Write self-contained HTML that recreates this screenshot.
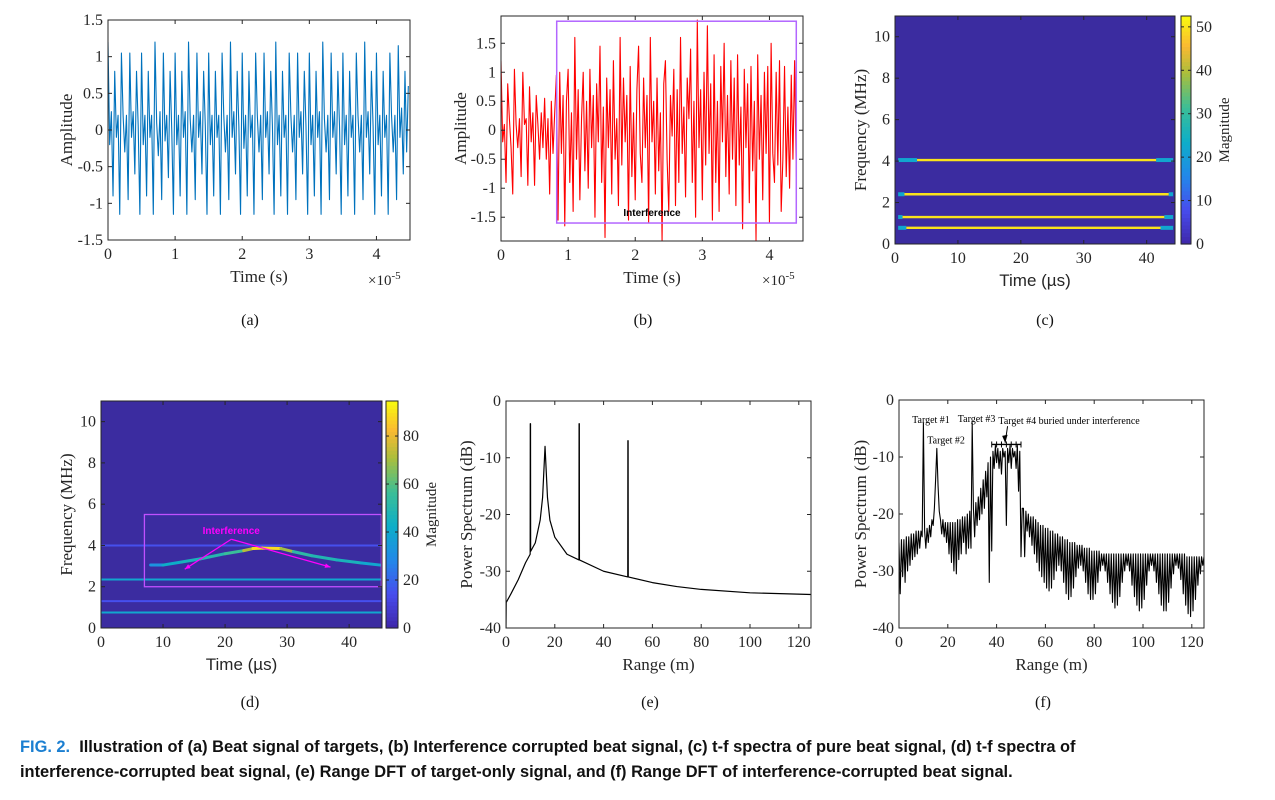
<!DOCTYPE html>
<html><head><meta charset="utf-8">
<style>
html,body{margin:0;padding:0;background:#fff;}
body{width:1275px;height:800px;position:relative;overflow:hidden;}
svg{position:absolute;left:0;top:0;}
.cap{position:absolute;left:20px;top:735px;font-family:"Liberation Sans",sans-serif;font-weight:bold;font-size:16.4px;line-height:25px;color:#111;white-space:nowrap;}
.cap b{color:#1b7fd1;}
</style></head>
<body>
<svg id="fig" width="1275" height="800" viewBox="0 0 1275 800"></svg>
<div class="cap"><b>FIG. 2.</b>&nbsp; Illustration of (a) Beat signal of targets, (b) Interference corrupted beat signal, (c) t-f spectra of pure beat signal, (d) t-f spectra of<br>interference-corrupted beat signal, (e) Range DFT of target-only signal, and (f) Range DFT of interference-corrupted beat signal.</div>
<script>
// ---------- data ----------
const sigA = [
1.2,-0.2,0.25,-0.9,0.8,-0.1,0.2,-1.15,1.05,0.2,
-0.3,0.2,-0.95,1.05,-0.1,0.25,-0.6,0.8,0.05,-1.15,
1.05,-0.2,0.2,-0.9,0.8,-0.1,0.2,-1.15,1.2,0.1,
-0.35,0.25,-0.95,1.05,-0.15,0.2,-0.65,0.8,0.0,-1.15,
1.05,-0.2,0.2,-0.9,0.8,-0.1,0.25,-1.15,1.2,0.15,
-0.3,0.2,-0.95,1.05,-0.1,0.25,-0.6,0.8,0.05,-1.15,
1.05,-0.2,0.2,-0.9,0.8,-0.1,0.2,-1.15,1.05,0.2,
-0.3,0.2,-0.95,1.2,-0.1,0.25,-0.6,0.8,0.05,-1.15,
1.05,-0.25,0.2,-0.9,0.8,-0.1,0.2,-1.15,1.05,0.2,
-0.3,0.2,-0.95,1.05,-0.1,0.25,-0.6,0.8,0.05,-1.15,
1.2,-0.2,0.2,-0.9,0.8,-0.1,0.2,-1.15,1.05,0.2,
-0.3,0.2,-0.95,1.05,-0.1,0.25,-0.6,0.8,0.05,-1.15,
1.05,-0.2,0.2,-0.9,0.8,-0.1,0.25,-1.15,1.2,0.15,
-0.3,0.2,-0.95,1.05,-0.1,0.25,-0.6,0.8,0.05,-1.15,
1.05,-0.2,0.2,-0.9,0.8,-0.1,0.2,-1.15,1.05,0.2,
-0.3,0.2,-0.95,1.2,-0.1,0.25,-0.6,0.8,0.05,-1.15,
1.05,-0.2,0.2,-0.9,0.8,-0.1,0.2,-1.15,1.05,0.2,
-0.3,0.2,-0.95,1.15,-0.1,0.3,-0.6,0.8,-0.3,0.6];
const sigB = [
1.2,-0.2,0.1,-0.9,0.8,0.2,-0.3,-1.1,1.05,0.1,-0.3,0.2,-0.8,1.0,0.1,0.2,-0.95,0.75,-0.2,0.3,
-0.95,0.6,0.1,-0.5,0.3,-0.3,0.55,-0.5,0.2,-1.1,0.5,-0.4,0.3,
0.95,-1.55,1.0,-0.4,0.6,-1.65,0.5,1.05,-0.9,0.3,-1.4,1.6,-0.5,0.7,-1.2,0.2,1.0,-0.7,0.5,-1.0,
1.05,-0.3,0.6,-1.5,0.8,-0.2,1.45,-0.9,0.4,-1.85,0.9,-0.3,0.7,-1.1,1.2,-0.5,0.2,-1.3,1.6,-0.6,
0.9,-0.2,0.6,-1.55,1.1,-0.8,0.3,-1.2,0.7,1.45,-0.4,-0.9,0.9,-0.3,0.6,-1.6,1.6,-0.2,0.5,-1.1,
0.9,-0.7,0.3,-1.9,0.8,1.2,-0.5,-1.4,0.6,-0.1,1.05,-1.3,0.7,-0.9,1.6,-0.4,0.4,-1.15,0.9,0.2,
1.4,-0.9,0.5,-1.5,1.9,-0.3,0.7,-1.2,1.0,-0.6,1.8,-0.4,0.8,-1.55,1.3,-0.9,0.5,-1.4,1.1,-0.2,
1.5,-0.8,0.6,-1.1,1.2,-0.5,0.9,-1.3,1.3,-0.6,0.4,-1.7,1.05,-0.3,0.8,-1.25,1.1,-0.7,0.5,-1.9,
1.3,-0.5,0.6,-1.2,1.0,-0.4,1.1,-1.6,1.5,-0.4,-0.9,1.0,-0.6,1.2,-1.4,-0.5,1.1,-0.8,0.4,-1.0,
0.95,-0.5,1.2,-0.8];
const powerF = [
-25,-34,-24.5,-31,-24.5,-32,-24,-30,-24,-29,-23.5,-28,-23.5,-27.5,-23,-27,-23,-26,-23,-24,
-4,
-23,-26,-22.5,-25,-22,-24,-21,-22,-19,
-14,-8.5,-15,-19.5,-21,-23.5,
-21,-24,-21.5,-25,-21.5,-27,-21.5,-28.5,-21.5,-30,-21.5,-30.5,-21,-28,-21,-27,-20.5,-25,-20.5,-27,-20,-26,-19.5,-26,
-4,
-19,-24,-18,-22,-17,-21,-15.5,-20,-14,-19,-12.5,-17,-11,-32,
-10,-26.5,-9,-12,-8,-11,-8.5,-12,-9,-13,-8.5,-10,-9,-22,-8.5,-11,-8,-12,-8.5,-10,-9,-12,-8,-16,-9,-27.5,-19,
-19,-27.5,-19.5,-23,-20,-24,-20.5,-25.5,-20.5,-27,-21,-28.5,-21.5,-30,-22,-31,-22,-32,-22.5,-33,
-22.5,-33.5,-23,-33,-23,-31.5,-23.5,-30,-23.5,-29,-24,-30,-24,-32,-24.5,-34,-24.5,-35,-25,-34.5,
-25,-33,-25,-31,-25.5,-29.5,-25.5,-29,-25.5,-30,-26,-32,-26,-34,-26,-35,-26.5,-35,-26.5,-34,
-26.5,-32,-26.5,-30,-27,-29,-27,-30,-27,-32,-27,-34,-27,-35.5,-27,-36.5,-27,-36,-27,-34.5,
-27,-32,-27,-30,-27,-29,-27,-30,-27,-32.5,-27,-34.5,-27,-36,-27,-37,-27,-36.5,-27,-35,
-27,-32.5,-27,-30,-27,-29,-27,-30,-27,-32,-27,-34,-27,-36,-27,-37,-27,-37,-27,-35.5,
-27,-33,-27,-30.5,-27,-29,-27,-29.5,-27,-31.5,-27,-34,-27,-36,-27.5,-37.5,-27.5,-38,-27.5,-37,
-27.5,-35,-27.5,-32.5,-27.5,-30.5,-27.5,-29,-27.5];
const rangeE = [0,0.1,2,5,8,9.9,9.95,10.05,10.1,12,14,15,16,17,18,20,25,29.9,29.95,30.05,30.1,40,49.9,49.95,50.05,50.1,60,70,80,100,125];
const powerE = [-40,-35.5,-34,-31.5,-28.5,-27,-4,-4,-26.5,-25,-21,-17,-8,-17,-21,-24,-27,-28,-4,-4,-28,-30,-31,-7,-7,-31,-32,-32.7,-33.2,-33.8,-34.1];
// t-f (c)
const freqC = [4.05,2.4,1.3,0.78];
const startC = [3.5,1.5,1.2,1.8];
const endC = [41.5,43.5,42.8,42.2];
const magC = [50,50,50,50];
// t-f (d)
const freqD = [4.0,2.35,1.3,0.75];
const magD = [15,40,15,40];
const chirpT = [8,10,13,16,20,23,24.5,26,29,31,34,38,42,45];
const chirpF = [3.05,3.05,3.2,3.35,3.6,3.75,3.85,3.87,3.85,3.7,3.5,3.3,3.15,3.05];
const chirpMag = [25,40,45,48,52,60,85,92,85,55,50,48,45,35];

// ---------- helpers ----------
const NS="http://www.w3.org/2000/svg";
const svg=document.getElementById('fig');
function mk(tag,attrs,parent){const e=document.createElementNS(NS,tag);for(const k in attrs)e.setAttribute(k,attrs[k]);(parent||svg).appendChild(e);return e;}
function txt(s,attrs,parent){const e=mk('text',attrs,parent);e.textContent=s;return e;}
const SERIF='"Liberation Serif",serif', SANS='"Liberation Sans","DejaVu Sans",sans-serif';
const stops=[[0,[62,38,168]],[0.15,[72,76,237]],[0.3,[34,136,233]],[0.45,[13,174,200]],[0.6,[60,190,150]],[0.75,[170,190,60]],[0.87,[250,185,50]],[1,[249,251,14]]];
function parula(t){t=Math.max(0,Math.min(1,t));for(let i=1;i<stops.length;i++){if(t<=stops[i][0]){const a=stops[i-1],b=stops[i];const f=(t-a[0])/(b[0]-a[0]);const c=a[1].map((v,j)=>Math.round(v+(b[1][j]-v)*f));return `rgb(${c})`;}}return 'rgb(249,251,14)';}
let clipId=0;
function axes(name,c){
  const g=mk('g',{});
  
  
  c.sx=v=>c.L+(v-c.xmin)/(c.xmax-c.xmin)*(c.R-c.L);
  c.sy=v=>c.B-(v-c.ymin)/(c.ymax-c.ymin)*(c.B-c.T);
  const id='clip'+(clipId++);
  const cp=mk('clipPath',{id:id},g);mk('rect',{x:c.L,y:c.T,width:c.R-c.L,height:c.B-c.T},cp);
  c.g=g; c.plot=mk('g',{'clip-path':`url(#${id})`},g);
  
  
  return c;
}
function frame(c,xticks,yticks,xlab,ylab,xlabSans){
  const g=c.g;
  const box=mk('rect',{x:c.L,y:c.T,width:c.R-c.L,height:c.B-c.T,fill:'none',stroke:'#262626','stroke-width':1},g);
  
  
  xticks.forEach(v=>{const x=c.sx(v);
    mk('line',{x1:x,x2:x,y1:c.B,y2:c.B-4,stroke:'#262626'},g);
    mk('line',{x1:x,x2:x,y1:c.T,y2:c.T+4,stroke:'#262626'},g);
    const t=txt(String(v),{x:x,y:c.B+19,'text-anchor':'middle','font-family':SERIF,'font-size':16,fill:'#262626'},g);
    
    });
  yticks.forEach(v=>{const y=c.sy(v);
    mk('line',{x1:c.L,x2:c.L+4,y1:y,y2:y,stroke:'#262626'},g);
    mk('line',{x1:c.R,x2:c.R-4,y1:y,y2:y,stroke:'#262626'},g);
    const t=txt(String(v),{x:c.L-5,y:y+5,'text-anchor':'end','font-family':SERIF,'font-size':16,fill:'#262626'},g);
    
    });
  const xl=txt(xlab,{x:(c.L+c.R)/2,y:c.B+42,'text-anchor':'middle','font-family':xlabSans?SANS:SERIF,'font-size':17,fill:'#262626'},g);
  
  
  const yx=c.ylx, yy=(c.T+c.B)/2;
  const yl=txt(ylab,{x:yx,y:yy,'text-anchor':'middle','font-family':SERIF,'font-size':17,fill:'#262626',transform:`rotate(-90 ${yx} ${yy})`},g);
  
  
}
function line(c,xs,ys,color,w,name){
  const p=mk('polyline',{points:xs.map((x,i)=>c.sx(x).toFixed(2)+','+c.sy(ys[i]).toFixed(2)).join(' '),fill:'none',stroke:color,'stroke-width':w,'stroke-linejoin':'round'},c.plot);
  
  
  return p;
}
function sublabel(s,x,y){const t=txt(s,{x:x,y:y,'text-anchor':'middle','font-family':SERIF,'font-size':16,fill:'#111'});
  
  }
function exponent(x,y){const t=mk('text',{x:x,y:y,'font-family':SERIF,'font-size':15,fill:'#262626'});
  
  
  t.textContent='×10';const s=mk('tspan',{dy:-6,'font-size':11},t);s.textContent='-5';}
function colorbar(name,L,R,T,B,max,ticks){
  const g=mk('g',{});
  
  
  const n=60;
  for(let i=0;i<n;i++){mk('rect',{x:L,y:B-(i+1)*(B-T)/n,width:R-L,height:(B-T)/n+0.6,fill:parula((i+0.5)/n)},g);}
  mk('rect',{x:L,y:T,width:R-L,height:B-T,fill:'none',stroke:'#262626'},g);
  ticks.forEach(v=>{const y=B-v/max*(B-T);
    mk('line',{x1:R,x2:R-3,y1:y,y2:y,stroke:'#262626'},g);
    mk('line',{x1:L,x2:L+3,y1:y,y2:y,stroke:'#262626'},g);
    const t=txt(String(v),{x:R+5,y:y+5,'font-family':SERIF,'font-size':16,fill:'#262626'},g);
    
    });
  const yy=(T+B)/2, xx=R+38;
  const t=txt('Magnitude',{x:xx,y:yy,'text-anchor':'middle','font-family':SERIF,'font-size':15,fill:'#262626',transform:`rotate(-90 ${xx} ${yy})`},g);
  
  
}
const tA=sigA.map((_,i)=>i*0.025), tB=sigB.map((_,i)=>i*0.025), rF=powerF.map((_,i)=>i*0.5);

// ---------- (a) ----------
const A=axes('panel-a-beat-signal',{L:108,R:410,T:20,B:240,xmin:0,xmax:4.5,ymin:-1.5,ymax:1.5,ylx:72});
line(A,tA,sigA,'#0072bd',1.1,'beat-signal-line');
frame(A,[0,1,2,3,4],[-1.5,-1,-0.5,0,0.5,1,1.5],'Time (s)','Amplitude');
exponent(368,285); sublabel('(a)',250,325);

// ---------- (b) ----------
const Bp=axes('panel-b-corrupted-signal',{L:501,R:803,T:16,B:241,xmin:0,xmax:4.5,ymin:-1.91,ymax:1.97,ylx:466});
line(Bp,tB,sigB,'#ff0000',1.1,'corrupted-signal-line');
const ib=mk('rect',{x:Bp.sx(0.83),y:Bp.sy(1.88),width:Bp.sx(4.4)-Bp.sx(0.83),height:Bp.sy(-1.6)-Bp.sy(1.88),fill:'none',stroke:'#b266ff','stroke-width':1.5},Bp.g);


const ibt=txt('Interference',{x:Bp.sx(2.25),y:Bp.sy(-1.48),'text-anchor':'middle','font-family':SANS,'font-size':10,'font-weight':'bold',fill:'#000'},Bp.g);


frame(Bp,[0,1,2,3,4],[-1.5,-1,-0.5,0,0.5,1,1.5],'Time (s)','Amplitude');
exponent(762,285); sublabel('(b)',643,325);

// ---------- (c) ----------
const C=axes('panel-c-tf-pure',{L:895,R:1175,T:16,B:244,xmin:0,xmax:44.5,ymin:0,ymax:11,ylx:866});
let bg=mk('rect',{x:C.L,y:C.T,width:C.R-C.L,height:C.B-C.T,fill:'rgb(59,44,160)'},C.plot);


freqC.forEach((f,i)=>{
  const e1=mk('rect',{x:C.sx(0.5),y:C.sy(f)-2,width:C.sx(startC[i])-C.sx(0.5),height:4,fill:parula(0.42)},C.plot);
  
  
  const e2=mk('rect',{x:C.sx(endC[i]),y:C.sy(f)-2,width:C.sx(44.2)-C.sx(endC[i]),height:4,fill:parula(0.42)},C.plot);
  
  
  const l=mk('line',{x1:C.sx(startC[i]),x2:C.sx(endC[i]),y1:C.sy(f),y2:C.sy(f),stroke:parula(magC[i]/52.5),'stroke-width':2.4},C.plot);
  
  
});
frame(C,[0,10,20,30,40],[0,2,4,6,8,10],'Time (µs)','Frequency (MHz)',true);
colorbar('colorbar-c',1181,1191,16,244,52.5,[0,10,20,30,40,50]);
sublabel('(c)',1045,325);

// ---------- (d) ----------
const D=axes('panel-d-tf-corrupted',{L:101,R:382,T:401,B:628,xmin:0,xmax:45.3,ymin:0,ymax:11,ylx:72});
bg=mk('rect',{x:D.L,y:D.T,width:D.R-D.L,height:D.B-D.T,fill:'rgb(59,44,160)'},D.plot);


freqD.forEach((f,i)=>{
  const l=mk('line',{x1:D.sx(0),x2:D.sx(45.3),y1:D.sy(f),y2:D.sy(f),stroke:parula(magD[i]/94.6),'stroke-width':2},D.plot);
  
  
});
for(let i=0;i<chirpT.length-1;i++){
  const s=mk('line',{x1:D.sx(chirpT[i]),x2:D.sx(chirpT[i+1]),y1:D.sy(chirpF[i]),y2:D.sy(chirpF[i+1]),stroke:parula((chirpMag[i]+chirpMag[i+1])/2/94.6),'stroke-width':3,'stroke-linecap':'round'},D.plot);
  
  
}
const db=mk('rect',{x:D.sx(7),y:D.sy(5.5),width:D.sx(45.2)-D.sx(7),height:D.sy(2)-D.sy(5.5),fill:'none',stroke:'#c050ff','stroke-width':1.3},D.g);


[[13.5,2.85],[37,2.95]].forEach(p=>{
  const x1=D.sx(21),y1=D.sy(4.3),x2=D.sx(p[0]),y2=D.sy(p[1]);
  const a=mk('line',{x1:x1,y1:y1,x2:x2,y2:y2,stroke:'#ff00ff','stroke-width':1.2},D.g);
  
  
  const ang=Math.atan2(y2-y1,x2-x1),h=6;
  const hd=mk('polygon',{points:`${x2},${y2} ${x2-h*Math.cos(ang-0.4)},${y2-h*Math.sin(ang-0.4)} ${x2-h*Math.cos(ang+0.4)},${y2-h*Math.sin(ang+0.4)}`,fill:'#ff00ff'},D.g);
  
  
});
const dt=txt('Interference',{x:D.sx(21),y:D.sy(4.55),'text-anchor':'middle','font-family':SANS,'font-size':10,'font-weight':'bold',fill:'#ff00ff'},D.g);


frame(D,[0,10,20,30,40],[0,2,4,6,8,10],'Time (µs)','Frequency (MHz)',true);
colorbar('colorbar-d',386,398,401,628,94.6,[0,20,40,60,80]);
sublabel('(d)',250,707);

// ---------- (e) ----------
const E=axes('panel-e-range-dft-target',{L:506,R:811,T:401,B:628,xmin:0,xmax:125,ymin:-40,ymax:0,ylx:472});
line(E,rangeE,powerE,'#000',1.2,'range-spectrum-line');
frame(E,[0,20,40,60,80,100,120],[-40,-30,-20,-10,0],'Range (m)','Power Spectrum (dB)');
sublabel('(e)',650,707);

// ---------- (f) ----------
const F=axes('panel-f-range-dft-corrupted',{L:899,R:1204,T:400,B:628,xmin:0,xmax:125,ymin:-40,ymax:0,ylx:866});
line(F,rF,powerF,'#000',1.1,'corrupted-range-spectrum-line');
const pl=mk('line',{x1:F.sx(38),x2:F.sx(50),y1:F.sy(-7.8),y2:F.sy(-7.8),stroke:'#000','stroke-width':1.3},F.g);


[38,40,42,44,46,48,50].forEach(v=>{const m=mk('line',{x1:F.sx(v),x2:F.sx(v),y1:F.sy(-7.8)-3,y2:F.sy(-7.8)+3,stroke:'#000'},F.g);
  
  });
const ar=mk('line',{x1:F.sx(44.5),y1:F.sy(-4.6),x2:F.sx(43.5),y2:F.sy(-7.5),stroke:'#000'},F.g);


const ah=mk('polygon',{points:`${F.sx(43.5)},${F.sy(-7.5)} ${F.sx(43.5)-3},${F.sy(-6.3)} ${F.sx(43.5)+2.5},${F.sy(-6.1)}`,fill:'#000'},F.g);


[['Target #1',13.1,-4.0],['Target #2',19.3,-7.6],['Target #3',31.8,-3.9],['Target #4 buried under interference',69.7,-4.2]].forEach(a=>{
  const t=txt(a[0],{x:F.sx(a[1]),y:F.sy(a[2]),'text-anchor':'middle','font-family':SERIF,'font-size':10,fill:'#000'},F.g);
  
  
});
frame(F,[0,20,40,60,80,100,120],[-40,-30,-20,-10,0],'Range (m)','Power Spectrum (dB)');
sublabel('(f)',1043,707);
</script>
</body></html>
